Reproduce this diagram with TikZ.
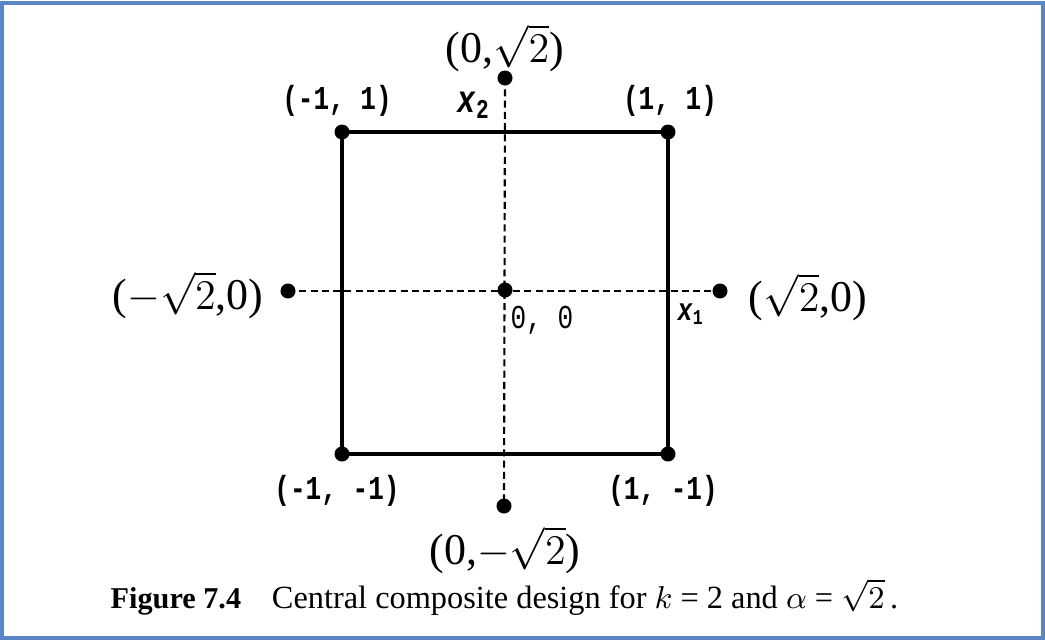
\documentclass[tikz,border=0pt]{standalone}
\usepackage{fontspec}
\setmainfont{Liberation Serif}
\newfontfamily\ptfont[FakeStretch=0.78]{Liberation Mono}
\usetikzlibrary{positioning}
\definecolor{framecol}{HTML}{5B86C5}

\begin{document}
\begin{tikzpicture}[
	x=0.01cm, y=-0.01cm,
	dot/.style={circle, fill=black, inner sep=0pt, minimum size=0.15cm},
	edge/.style={line width=1.2pt},
	axis/.style={line width=0.6pt, dash pattern=on 2pt off 1.2pt},
	ptlabel/.style={font=\ptfont\bfseries\fontsize{9.5}{11}\selectfont, inner sep=0pt},
	starlabel/.style={font=\fontsize{12.5}{14}\selectfont, inner sep=0pt},
	frame/.style={draw=framecol, line width=0.9pt}
	]
	\useasboundingbox (0,0) rectangle (1045,641);
	\draw[frame] (2,3) rectangle (1043,638);
	
	% Factorial (corner) points
	\node[dot] (nw) at (342,132) {};
	\node[dot] (ne) at (668,132) {};
	\node[dot] (se) at (668,454) {};
	\node[dot] (sw) at (342,454) {};
	
	% Centre and axial (star) points
	\node[dot] (origin) at (505,290) {};
	\node[dot] (top)    at (505,78)  {};
	\node[dot] (bottom) at (504,506) {};
	\node[dot] (left)   at (288,291) {};
	\node[dot] (right)  at (720,291) {};
	
	% Axes
	\draw[axis] (left.center) -- (right.center);
	\draw[axis] (top.center) -- (bottom.center);
	
	% Square
	\draw[edge] (nw.center) -- (ne.center) -- (se.center) -- (sw.center) -- cycle;
	
	% Labels of the corner points
	\node[ptlabel] (lnw) at (337,101) {(-1, 1)};
	\node[ptlabel] (lne) at (670,101) {(1, 1)};
	\node[ptlabel] (lsw) at (337,491) {(-1, -1)};
	\node[ptlabel] (lse) at (663,491) {(1, -1)};
	\node[ptlabel, font=\ptfont\fontsize{9.5}{11}\selectfont, anchor=west] (lorigin) at (510,320) {0, 0};
	
	% Axis names
	\node[ptlabel, font=\ptfont\bfseries\fontsize{11}{13}\selectfont] (lx2) at (474,105) {\textit{x}\textsubscript{2}};
	\node[ptlabel, font=\ptfont\bfseries\fontsize{9}{10}\selectfont] (lx1) at (691,314) {\textit{x}\textsubscript{1}};
	
	% Labels of the star points
	\node[starlabel] (ltop)    at (505,48)  {(0,$\sqrt{2}$)};
	\node[starlabel] (lbottom) at (505,550) {(0,$-\sqrt{2}$)};
	\node[starlabel] (lleft)   at (188,295) {($-\sqrt{2}$,0)};
	\node[starlabel] (lright)  at (808,297) {($\sqrt{2}$,0)};
	
	% Caption
	\node[anchor=base west, inner sep=0pt, font=\fontsize{9.2}{11}\selectfont] (caption) at (110,608)
	{{\fontsize{8.6}{10}\selectfont\textbf{Figure 7.4}}\hspace{0.95em}Central composite design for $k$ = 2 and $\alpha$ = $\sqrt{2}$\,.};
\end{tikzpicture}
\end{document}
